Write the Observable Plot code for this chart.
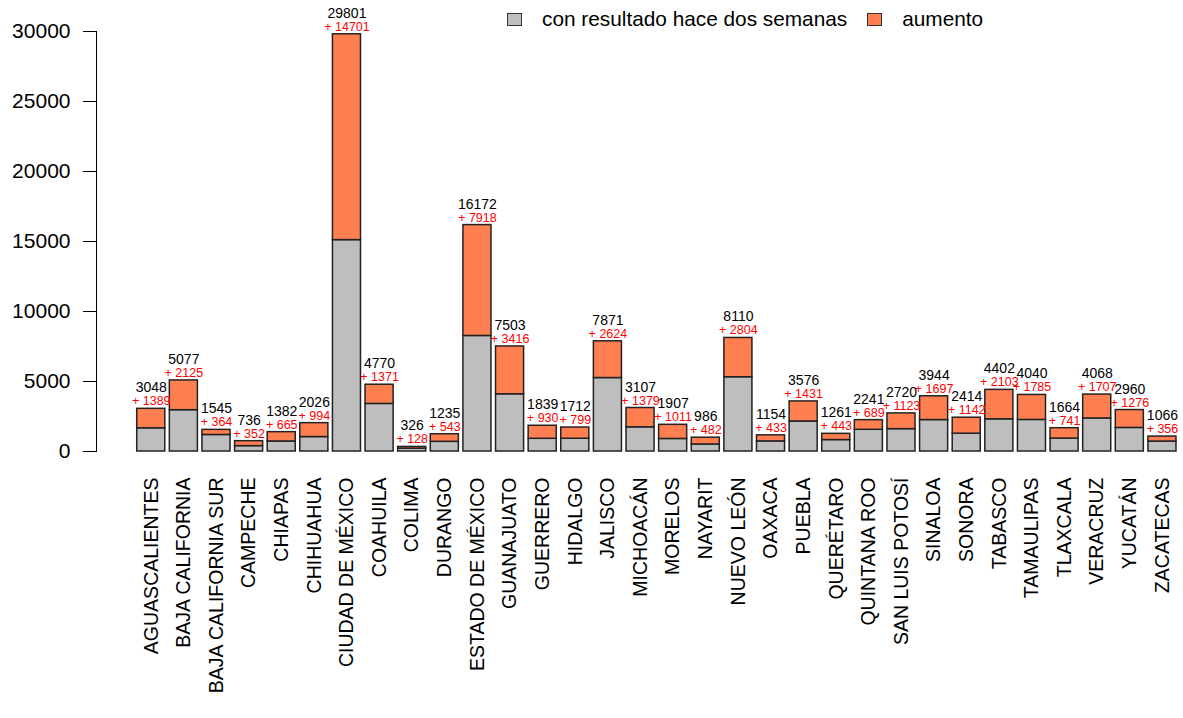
<!DOCTYPE html>
<html>
<head>
<meta charset="utf-8">
<script src="https://cdn.jsdelivr.net/npm/d3@7"></script>
<script src="https://cdn.jsdelivr.net/npm/@observablehq/plot@0.6"></script>
<style>
  html, body { margin: 0; padding: 0; background: #fff; overflow: hidden; }
  #wrap { position: relative; width: 1183px; height: 718px; font-family: "Liberation Sans", Arial, sans-serif; }
  #legend { position: absolute; top: 8px; left: 507px; height: 22px; line-height: 22px; font-size: 20.8px; display: flex; align-items: center; color: #000; white-space: nowrap; }
  #legend .sw { display: inline-block; width: 13px; height: 11px; border: 1px solid #333; }
</style>
</head>
<body>
<div id="wrap">
  <div id="legend">
    <span class="sw" style="background:#BEBEBE"></span>
    <span style="margin-left:20px">con resultado hace dos semanas</span>
    <span class="sw" style="background:#FF7F50; margin-left:20px"></span>
    <span style="margin-left:20px">aumento</span>
  </div>
</div>
<script>
const states = ["AGUASCALIENTES","BAJA CALIFORNIA","BAJA CALIFORNIA SUR","CAMPECHE","CHIAPAS","CHIHUAHUA","CIUDAD DE MÉXICO","COAHUILA","COLIMA","DURANGO","ESTADO DE MÉXICO","GUANAJUATO","GUERRERO","HIDALGO","JALISCO","MICHOACÁN","MORELOS","NAYARIT","NUEVO LEÓN","OAXACA","PUEBLA","QUERÉTARO","QUINTANA ROO","SAN LUIS POTOSÍ","SINALOA","SONORA","TABASCO","TAMAULIPAS","TLAXCALA","VERACRUZ","YUCATÁN","ZACATECAS"];
const totals = [3048,5077,1545,736,1382,2026,29801,4770,326,1235,16172,7503,1839,1712,7871,3107,1907,986,8110,1154,3576,1261,2241,2720,3944,2414,4402,4040,1664,4068,2960,1066];
const increases = [1389,2125,364,352,665,994,14701,1371,128,543,7918,3416,930,799,2624,1379,1011,482,2804,433,1431,443,689,1123,1697,1142,2103,1785,741,1707,1276,356];
const yTicks = [0,5000,10000,15000,20000,25000,30000];

const rows = states.map((s, i) => ({
  state: s,
  total: totals[i],
  inc: increases[i],
  base: totals[i] - increases[i]
}));

const chart = Plot.plot({
  width: 1183,
  height: 718,
  marginTop: 31,
  marginBottom: 267,
  marginLeft: 96,
  marginRight: 3,
  style: {fontFamily: "Liberation Sans, Arial, sans-serif", color: "#000", background: "#fff"},
  x: {domain: states, paddingInner: 0.14, paddingOuter: 0.686, align: 0.91, round: false, label: null},
  y: {domain: [0, 30000], label: null},
  marks: [
    Plot.barY(rows, {x: "state", y1: 0, y2: "base", fill: "#BEBEBE", stroke: "#222", strokeWidth: 1.5}),
    Plot.barY(rows, {x: "state", y1: "base", y2: "total", fill: "#FF7F50", stroke: "#222", strokeWidth: 1.5}),
    Plot.text(rows, {x: "state", y: "total", text: d => "+ " + d.inc, fill: "#FF0000", fontSize: 12.5, lineAnchor: "bottom", dy: -3.5}),
    Plot.text(rows, {x: "state", y: "total", text: d => String(d.total), fill: "#000", fontSize: 14, lineAnchor: "bottom", dy: -16.5}),
    Plot.axisY({ticks: yTicks, tickFormat: d3.format("d"), tickSize: 13, tickPadding: 13, fontSize: 21, stroke: "#000"}),
    Plot.frame({anchor: "left", stroke: "#000"}),
    Plot.axisX({tickRotate: -90, tickSize: 0, tickPadding: 26, fontSize: 19.5, label: null})
  ]
});
document.getElementById("wrap").prepend(chart);
</script>
</body>
</html>
